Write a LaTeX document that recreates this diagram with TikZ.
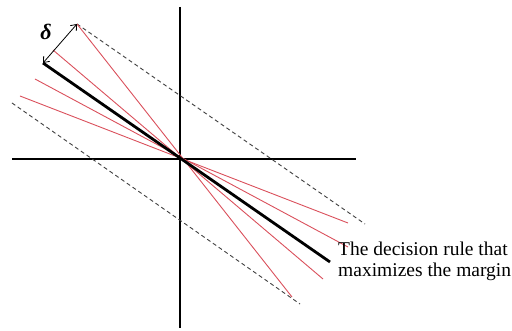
\documentclass[tikz,border=0pt]{standalone}
\usepackage{fontspec}
\setmainfont{Liberation Serif}
\usetikzlibrary{arrows.meta}
\definecolor{redline}{RGB}{218,80,92}
\tikzset{
  axis/.style={line width=1.1pt,black},
  rule/.style={line width=2.8pt,black},
  alt/.style={line width=0.9pt,redline},
  marginline/.style={line width=0.9pt,black!75,dash pattern=on 4pt off 3pt},
  deltaarrow/.style={line width=0.8pt,{Straight Barb[length=5pt,width=8pt]}-{Straight Barb[length=5pt,width=8pt]}},
  caption/.style={font=\fontsize{19.5}{21.5}\selectfont,align=left,anchor=base west,inner sep=0pt}
}
\begin{document}
\begin{tikzpicture}[x=1pt,y=-1pt]
\useasboundingbox (0,0) rectangle (512,331);
% axes
\coordinate (vt) at (180,7);
\coordinate (vb) at (180,328);
\coordinate (hl) at (12,159);
\coordinate (hr) at (356,159);
\draw[axis] (vt) -- (vb);
\draw[axis] (hl) -- (hr);
% margin lines
\coordinate (ut) at (77,24);
\coordinate (ub) at (365,224);
\coordinate (lt) at (12,103);
\coordinate (lb) at (300,304);
\draw[marginline] (ut) -- (ub);
\draw[marginline] (lt) -- (lb);
% red alternative rules
\coordinate (r1a) at (77,24);  \coordinate (r1b) at (292,297);
\coordinate (r2a) at (53,50);  \coordinate (r2b) at (323,279);
\coordinate (r3a) at (35,79);  \coordinate (r3b) at (348,247);
\coordinate (r4a) at (20,96);  \coordinate (r4b) at (348,223);
\draw[alt] (r1a) -- (r1b);
\draw[alt] (r2a) -- (r2b);
\draw[alt] (r3a) -- (r3b);
\draw[alt] (r4a) -- (r4b);
% best rule
\coordinate (ba) at (43,63);
\coordinate (bb) at (330,262);
\draw[rule] (ba) -- (bb);
% delta arrow
\draw[deltaarrow] (ba) -- (ut);
\node[font=\fontsize{22}{22}\selectfont\bfseries\itshape,inner sep=0pt] (delta) at (46,32) {δ};
% caption
\node[caption] (cap) at (338,277) {The decision rule that\\maximizes the margin};
\end{tikzpicture}
\end{document}
